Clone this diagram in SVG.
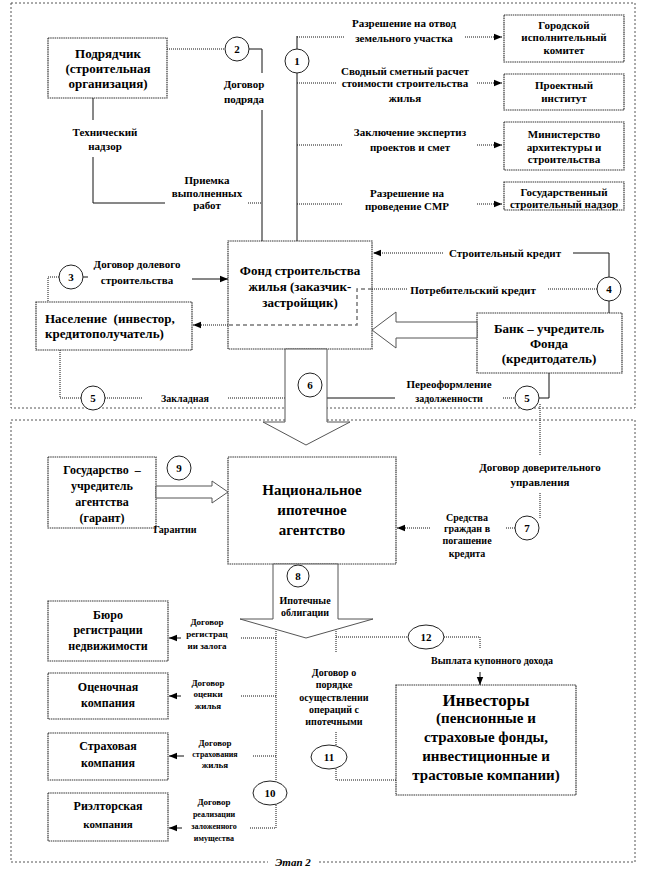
<svg xmlns="http://www.w3.org/2000/svg" width="660" height="879" viewBox="0 0 660 879">
<defs>
<marker id="ah" viewBox="0 0 10 10" refX="10" refY="5" markerWidth="8" markerHeight="8" orient="auto" markerUnits="userSpaceOnUse"><path d="M0,1 L10,5 L0,9 z" fill="#000"/></marker>
</defs>
<style>
text{font-family:"Liberation Serif","DejaVu Serif",serif;font-weight:bold;fill:#000;text-anchor:middle;dominant-baseline:central}
.bt{font-size:13px}
.bs{font-size:11px}
.bm{font-size:12px}
.bl{font-size:15px}
.lb{font-size:11px}
.l10{font-size:10px}
.sm{font-size:9px}
.xs{font-size:8px}
.it{font-size:11px;font-style:italic}
.box{fill:#fff;stroke:#333;stroke-width:1.2;stroke-dasharray:1.5 0.7}
.ln{fill:none;stroke:#111;stroke-width:1}
.dl{fill:none;stroke:#111;stroke-width:1;stroke-dasharray:1 1}
.gd{fill:none;stroke:#777;stroke-width:1.5;stroke-dasharray:4 3}
.frame{fill:none;stroke:#555;stroke-width:1;stroke-dasharray:2 2}
.cir{fill:#fff;stroke:#222;stroke-width:1}
.blk{fill:#fff;stroke:#555;stroke-width:1}
</style>
<rect width="660" height="879" fill="#fff"/>
<g id="frames">
<rect x="11" y="3" width="624" height="405" class="frame"/>
<rect x="11" y="420" width="624" height="442" class="frame"/>
<rect x="268" y="854" width="50" height="16" fill="#fff"/>
<text x="293" y="862" class="it">Этап 2</text>
</g>
<g id="nodes">
<g id="podryadchik"><rect x="48" y="38" width="119" height="60" class="box"/>
<text x="108" y="53" class="bt">Подрядчик</text><text x="108" y="68" class="bt">(строительная</text><text x="108" y="83" class="bt">организация)</text></g>
<g id="gorispolkom"><rect x="504" y="15" width="120" height="47" class="box"/>
<text x="564" y="25" class="bs">Городской</text><text x="564" y="37" class="bs">исполнительный</text><text x="564" y="50" class="bs">комитет</text></g>
<g id="proekt"><rect x="504" y="74" width="120" height="36" class="box"/>
<text x="564" y="85" class="bs">Проектный</text><text x="564" y="98" class="bs">институт</text></g>
<g id="minarch"><rect x="504" y="122" width="120" height="48" class="box"/>
<text x="564" y="134" class="bs">Министерство</text><text x="564" y="147" class="bs">архитектуры и</text><text x="564" y="159" class="bs">строительства</text></g>
<g id="gosnadzor"><rect x="504" y="182" width="120" height="28" class="box"/>
<text x="564" y="192" class="bs">Государственный</text><text x="564" y="204" class="bs">строительный надзор</text></g>
<g id="fond"><rect x="228" y="241" width="144" height="108" class="box"/>
<text x="300" y="270" class="bt">Фонд строительства</text><text x="300" y="286" class="bt">жилья (заказчик-</text><text x="300" y="302" class="bt">застройщик)</text></g>
<g id="naselenie"><rect x="36" y="302" width="156" height="48" class="box"/>
<text x="45" y="318" class="bt" style="text-anchor:start">Население&#160; (инвестор,</text><text x="45" y="333" class="bt" style="text-anchor:start">кредитополучатель)</text></g>
<g id="bank"><rect x="477" y="313" width="145" height="60" class="box"/>
<text x="549" y="328" class="bt">Банк – учредитель</text><text x="549" y="343" class="bt">Фонда</text><text x="549" y="358" class="bt">(кредитодатель)</text></g>
<g id="gosudarstvo"><rect x="48" y="457" width="108" height="71" class="box"/>
<text x="102" y="470" class="bm">Государство&#160; –</text><text x="102" y="486" class="bm">учредитель</text><text x="102" y="502" class="bm">агентства</text><text x="102" y="518" class="bm">(гарант)</text></g>
<g id="nia"><rect x="228" y="457" width="168" height="107" class="box"/>
<text x="312" y="490" class="bl">Национальное</text><text x="312" y="510" class="bl">ипотечное</text><text x="312" y="530" class="bl">агентство</text></g>
<g id="buro"><rect x="48" y="601" width="120" height="60" class="box"/>
<text x="108" y="615" class="bm">Бюро</text><text x="108" y="630" class="bm">регистрации</text><text x="108" y="646" class="bm">недвижимости</text></g>
<g id="ocenka"><rect x="48" y="673" width="120" height="46" class="box"/>
<text x="108" y="687" class="bm">Оценочная</text><text x="108" y="703" class="bm">компания</text></g>
<g id="strah"><rect x="48" y="733" width="120" height="47" class="box"/>
<text x="108" y="746" class="bm">Страховая</text><text x="108" y="763" class="bm">компания</text></g>
<g id="rielt"><rect x="48" y="793" width="120" height="48" class="box"/>
<text x="108" y="806" class="bm">Риэлторская</text><text x="108" y="824" class="bs">компания</text></g>
<g id="investory"><rect x="396" y="685" width="180" height="110" class="box"/>
<text x="486" y="700" style="font-size:17px">Инвесторы</text><text x="486" y="718" class="bl">(пенсионные и</text><text x="486" y="737" class="bl">страховые фонды,</text><text x="486" y="756" class="bl">инвестиционные и</text><text x="486" y="775" class="bl">трастовые компании)</text></g>
</g>
<g id="connectors">
<path d="M167,49 H225" class="dl"/>
<path d="M249,49 H262 V73 M262,110 V241" class="ln"/>
<path d="M297,36 V49 M297,73 V241" class="ln"/>
<path d="M297,37 H345 M297,83 H337 M297,145 H343 M297,204 H343" class="dl"/>
<path d="M465,37 H502" class="dl" marker-end="url(#ah)"/>
<path d="M477,83 H502" class="dl" marker-end="url(#ah)"/>
<path d="M477,145 H502" class="dl" marker-end="url(#ah)"/>
<path d="M477,204 H502" class="dl" marker-end="url(#ah)"/>
<path d="M93,98 V120 M93,157 V203 H165" class="ln"/>
<path d="M248,203 H262" class="dl"/>
<path d="M59,277 H48 V302" class="dl"/>
<path d="M83,277 H88" class="ln"/>
<path d="M192,279 H228" class="ln" marker-end="url(#ah)"/>
<path d="M228,325 H193" class="dl" marker-end="url(#ah)"/>
<path d="M372,289 H357 V325 H228" class="gd"/>
<path d="M597,289 H548 M407,289 H372" class="dl"/>
<path d="M609,277 V253 H573" class="ln"/>
<path d="M443,253 H373" class="dl" marker-end="url(#ah)"/>
<path d="M609,301 V313" class="ln"/>
<path d="M60,350 V398 H81" class="dl"/>
<path d="M105,398 H143 M228,398 H285" class="dl"/>
<path d="M327,398 H395" class="ln"/>
<path d="M503,398 H515" class="dl"/>
<path d="M539,398 H549 V373" class="ln"/>
<path d="M540,404 V455 M540,493 V518" class="dl"/>
<path d="M515,528 H505" class="dl"/>
<path d="M430,528 H397" class="dl" marker-end="url(#ah)"/>
<path d="M276,627 V781 M276,805 V828 H250" class="dl"/>
<path d="M276,638 H240 M276,696 H240 M276,756 H252" class="dl"/>
<path d="M181,638 H169" class="ln" marker-end="url(#ah)"/>
<path d="M181,696 H169" class="ln" marker-end="url(#ah)"/>
<path d="M184,756 H169" class="ln" marker-end="url(#ah)"/>
<path d="M182,828 H169" class="ln" marker-end="url(#ah)"/>
<path d="M336,627 V653 M336,732 V745 M336,769 V780 H396" class="dl"/>
<path d="M336,637 H408 M444,637 H480 V648" class="dl"/>
<path d="M480,672 V685" class="ln" marker-end="url(#ah)"/>
<polygon points="477,322 396,322 396,312 372,330 396,348 396,338 477,338" class="blk"/>
<polygon points="285,349 285,422 263,422 306,445 350,422 327,422 327,349" class="blk"/>
<polygon points="156,486 212,486 212,481 228,492 212,503 212,498 156,498" class="blk"/>
<polygon points="273,564 273,619 240,619 306,638 373,619 338,619 338,564" class="blk"/>
</g>
<g id="numbers">
<circle cx="297" cy="61" r="12" class="cir"/><text x="297" y="61" class="bs">1</text>
<circle cx="237" cy="49" r="12" class="cir"/><text x="237" y="49" class="bs">2</text>
<circle cx="71" cy="277" r="12" class="cir"/><text x="71" y="277" class="bs">3</text>
<circle cx="609" cy="289" r="12" class="cir"/><text x="609" y="289" class="bs">4</text>
<circle cx="93" cy="398" r="12" class="cir"/><text x="93" y="398" class="bs">5</text>
<circle cx="527" cy="398" r="12" class="cir"/><text x="527" y="398" class="bs">5</text>
<circle cx="310" cy="385" r="12" class="cir"/><text x="310" y="385" class="bs">6</text>
<circle cx="527" cy="528" r="12" class="cir"/><text x="527" y="528" class="bs">7</text>
<circle cx="298" cy="576" r="11" class="cir"/><text x="298" y="576" class="bs">8</text>
<circle cx="179" cy="468" r="12" class="cir"/><text x="179" y="468" class="bs">9</text>
<ellipse cx="270" cy="793" rx="17" ry="12" class="cir"/><text x="270" y="793" class="bs">10</text>
<ellipse cx="329" cy="757" rx="18" ry="12" class="cir"/><text x="329" y="757" class="bs">11</text>
<ellipse cx="426" cy="637" rx="18" ry="12" class="cir"/><text x="426" y="637" class="bs">12</text>
</g>
<g id="labels">
<text x="244" y="84" class="lb">Договор</text><text x="244" y="99" class="lb">подряда</text>
<text x="105" y="132" class="lb">Технический</text><text x="105" y="146" class="lb">надзор</text>
<text x="207" y="180" class="lb">Приемка</text><text x="207" y="193" class="lb">выполненных</text><text x="207" y="205" class="lb">работ</text>
<text x="404" y="23" class="lb">Разрешение на отвод</text><text x="404" y="38" class="lb">земельного участка</text>
<text x="405" y="71" class="lb">Сводный сметный расчет</text><text x="405" y="83" class="lb">стоимости строительства</text><text x="405" y="98" class="lb">жилья</text>
<text x="410" y="132" class="lb">Заключение экспертиз</text><text x="410" y="147" class="lb">проектов и смет</text>
<text x="407" y="193" class="lb">Разрешение на</text><text x="407" y="206" class="lb">проведение СМР</text>
<text x="137" y="264" class="lb">Договор долевого</text><text x="137" y="280" class="lb">строительства</text>
<text x="505" y="253" class="lb">Строительный кредит</text>
<text x="473" y="290" class="lb">Потребительский кредит</text>
<text x="185" y="398" class="l10">Закладная</text>
<text x="449" y="384" class="lb">Переоформление</text><text x="449" y="398" class="l10">задолженности</text>
<text x="540" y="467" class="lb">Договор доверительного</text><text x="540" y="482" class="lb">управления</text>
<text x="467" y="517" class="l10">Средства</text><text x="467" y="528" class="l10">граждан в</text><text x="467" y="540" class="l10">погашение</text><text x="467" y="553" class="l10">кредита</text>
<text x="175" y="529" class="l10">Гарантии</text>
<text x="305" y="600" class="l10">Ипотечные</text><text x="305" y="612" class="l10">облигации</text>
<text x="207" y="622" class="sm">Договор</text><text x="207" y="634" class="sm">регистрац</text><text x="207" y="646" class="sm">ии залога</text>
<text x="208" y="683" class="sm">Договор</text><text x="208" y="694" class="sm">оценки</text><text x="208" y="706" class="sm">жилья</text>
<text x="215" y="743" class="sm">Договор</text><text x="215" y="754" class="xs">страхования</text><text x="215" y="765" class="sm">жилья</text>
<text x="214" y="802" class="sm">Договор</text><text x="214" y="814" class="xs">реализации</text><text x="214" y="826" class="xs">заложенного</text><text x="214" y="838" class="xs">имущества</text>
<text x="334" y="672" class="l10">Договор о</text><text x="334" y="684" class="l10">порядке</text><text x="334" y="697" class="l10">осуществлении</text><text x="334" y="709" class="l10">операций с</text><text x="334" y="721" class="l10">ипотечными</text>
<text x="492" y="660" class="l10">Выплата купонного дохода</text>
</g>
</svg>
